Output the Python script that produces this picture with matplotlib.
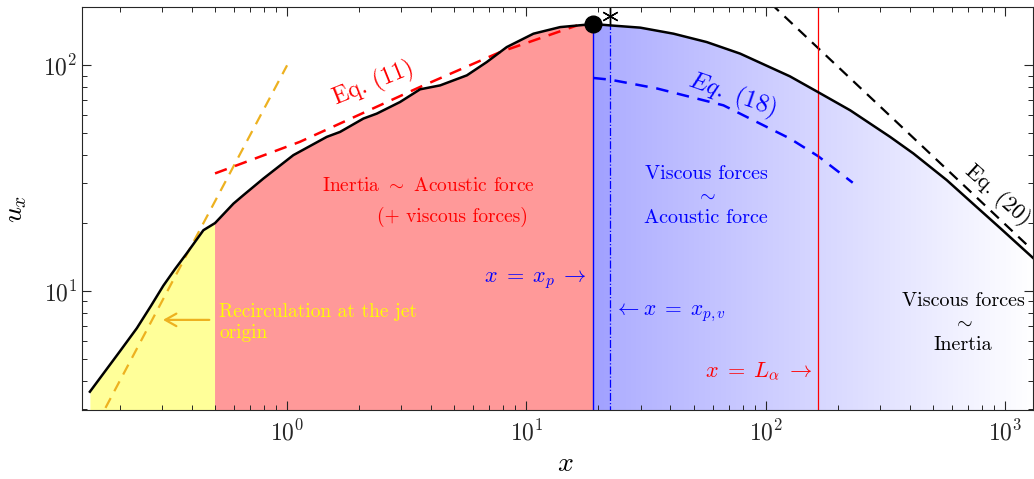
import numpy as np
import matplotlib
matplotlib.use('Agg')
import matplotlib.pyplot as plt

plt.rcParams['mathtext.fontset'] = 'cm'
plt.rcParams['font.family'] = 'serif'
plt.rcParams['font.serif'] = ['cmr10']
plt.rcParams['axes.formatter.use_mathtext'] = True

# velocity along the jet axis
x_curve = [0.150, 0.1655, 0.2, 0.2355, 0.27, 0.304, 0.34, 0.381, 0.447, 0.5, 0.597, 0.657,
           0.796, 1.062, 1.465, 1.665, 2.084, 2.37, 2.966, 3.595, 4.36, 5.64, 6.83, 8.28,
           10.70, 13.83, 17.88, 19.05, 22.4, 29.9, 41.2, 56.7, 78.2, 111.3, 126.2, 165.1,
           225.5, 331, 414, 571, 750, 955, 1315]
y_curve = [3.58, 4.12, 5.4, 6.84, 8.6, 10.56, 12.5, 14.7, 18.6, 20.0, 24.4, 26.6,
           31.5, 40.0, 48.2, 50.7, 58.1, 61.1, 68.8, 78.3, 81.5, 90.3, 103.4, 120.5,
           138.1, 147.7, 151.5, 152.5, 150.3, 146.9, 138.1, 126.8, 112.7, 95.0, 89.4, 76.2,
           63.2, 48.2, 40.7, 31.0, 23.9, 19.0, 13.96]

# asymptotic laws
eq11_x = [0.5, 1.13, 3.595, 7.77, 16.3]
eq11_y = [33.2, 45.8, 80.2, 114.5, 150.3]
eq18_x = [19.05, 22.4, 35.1, 66.6, 126.2, 165.5, 231]
eq18_y = [87.9, 86.4, 79.0, 66.5, 47.4, 39.6, 30.2]
eq20_x = [105, 1260]
eq20_y = [188, 15.7]
orig_x = [0.16, 1.0]
orig_y = [2.56, 100]

x_rec = 0.5      # end of recirculation zone
x_p = 19.05      # velocity peak
x_pv = 22.4
L_alpha = 165.5
u_peak = 152.5
u_star = 165.0

xlim = (0.139, 1310)
ylim = (2.97, 181)

fig = plt.figure(figsize=(10.34, 4.79), dpi=100)
ax = fig.add_axes([0.0793, 0.144, 0.9198, 0.841])
ax.set_xscale('log')
ax.set_yscale('log')
ax.set_xlim(*xlim)
ax.set_ylim(*ylim)

xc = np.array(x_curve)
yc = np.array(y_curve)

# filled regions
m = xc <= x_rec
ax.fill_between(xc[m], yc[m], 1, color='#ffff99', lw=0, zorder=1)
m = (xc >= x_rec) & (xc <= x_p)
ax.fill_between(xc[m], yc[m], 1, color='#ff9999', lw=0, zorder=1)
m = xc >= x_p
blue = ax.fill_between(xc[m], yc[m], 1, color='none', lw=0, zorder=1)
grad = np.linspace(0, 1, 256).reshape(1, -1)
c0 = np.array([172, 172, 255]) / 255
c1 = np.array([255, 255, 255]) / 255
img = c0[None, None, :] + (c1 - c0)[None, None, :] * grad[..., None]
x0 = (np.log10(x_p) - np.log10(xlim[0])) / (np.log10(xlim[1]) - np.log10(xlim[0]))
im = ax.imshow(img, extent=[x0, 1, 0, 1], transform=ax.transAxes, aspect='auto',
               interpolation='bilinear', zorder=1)
im.set_clip_path(blue.get_paths()[0], transform=ax.transData)
m = (xc >= x_p) & (xc <= x_pv)
ax.fill_between(xc[m], yc[m], 1, color='#7777ff', alpha=0.2, lw=0, zorder=1)

# lines
ax.plot(orig_x, orig_y, color='#edb120', lw=1.6, dashes=(5, 3.5), zorder=3)
ax.plot(eq11_x, eq11_y, color='red', lw=1.8, dashes=(5, 3.5), zorder=3)
ax.plot(eq18_x, eq18_y, color='blue', lw=1.8, dashes=(5, 3.5), zorder=3)
ax.plot(eq20_x, eq20_y, color='black', lw=1.6, dashes=(5, 3.5), zorder=3)
ax.plot(x_curve, y_curve, color='black', lw=1.8, zorder=4)

ax.plot([x_p, x_p], [1, u_peak], color='blue', lw=1.0, zorder=3)
ax.plot([x_pv, x_pv], [1, 150.3], color='blue', lw=0.9, ls='-.', zorder=3)
ax.axvline(L_alpha, color='red', lw=0.9, zorder=3)

ax.plot([x_p], [u_peak], 'o', color='black', ms=12, zorder=5)
ax.plot([x_pv], [u_star], marker=(6, 2, 0), color='black', ms=12, mew=1.0, zorder=5,
        clip_on=False)

# annotations
ax.text(2.29, 83.2, 'Eq. (11)', color='red', fontsize=17, rotation=22,
        ha='center', va='center', zorder=6)
ax.text(72.4, 73.7, r'$Eq.\ (18)$', color='blue', fontsize=18, rotation=-19,
        ha='center', va='center', zorder=6)
ax.text(930, 26.6, 'Eq. (20)', color='black', fontsize=16, rotation=-42,
        ha='center', va='center', zorder=6)
ax.text(3.88, 29.2, r'Inertia $\sim$ Acoustic force', color='red', fontsize=14,
        ha='center', va='center', zorder=6)
ax.text(4.89, 21.2, '(+ viscous forces)', color='red', fontsize=14,
        ha='center', va='center', zorder=6)
ax.text(0.52, 7.25, 'Recirculation at the jet\norigin', color='yellow', fontsize=14,
        ha='left', va='center', linespacing=1.2, zorder=6)
ax.annotate('', xy=(0.295, 7.45), xytext=(0.486, 7.45),
            arrowprops=dict(arrowstyle='->,head_length=0.8,head_width=0.45',
                            color='#edb120', lw=1.6), zorder=6)
ax.text(17.9, 11.3, r'$x\;=\;x_p\;\rightarrow$', color='blue', fontsize=16,
        ha='right', va='center', zorder=6)
ax.text(23.3, 8.0, r'$\leftarrow x\;=\;x_{p,v}$', color='blue', fontsize=15.5,
        ha='left', va='center', zorder=6)
ax.text(56.4, 26.3, 'Viscous forces\n' + r'$\sim$' + '\nAcoustic force', color='blue',
        fontsize=14.5, ha='center', va='center', linespacing=1.3, zorder=6)
ax.text(668, 7.22, 'Viscous forces\n' + r'$\sim$' + '\nInertia', color='black',
        fontsize=14.5, ha='center', va='center', linespacing=1.3, zorder=6)
ax.text(156, 4.38, r'$x\;=\;L_\alpha\;\rightarrow$', color='red', fontsize=16,
        ha='right', va='center', zorder=6)

ax.set_xlabel(r'$x$', fontsize=20)
ax.set_ylabel(r'$u_x$', fontsize=20)
ax.xaxis.set_label_coords(0.508, -0.1)
ax.yaxis.set_label_coords(-0.056, 0.5)

ax.tick_params(which='both', direction='in', top=True, right=True, colors='#262626',
               labelsize=17)
ax.tick_params(which='major', length=6.5, width=0.8)
ax.tick_params(which='minor', length=3.6, width=0.7)
ax.tick_params(axis='x', which='major', pad=7)
for s in ax.spines.values():
    s.set_color('#262626')
    s.set_linewidth(0.8)
    s.set_zorder(7)

fig.savefig('out.png', dpi=100)
